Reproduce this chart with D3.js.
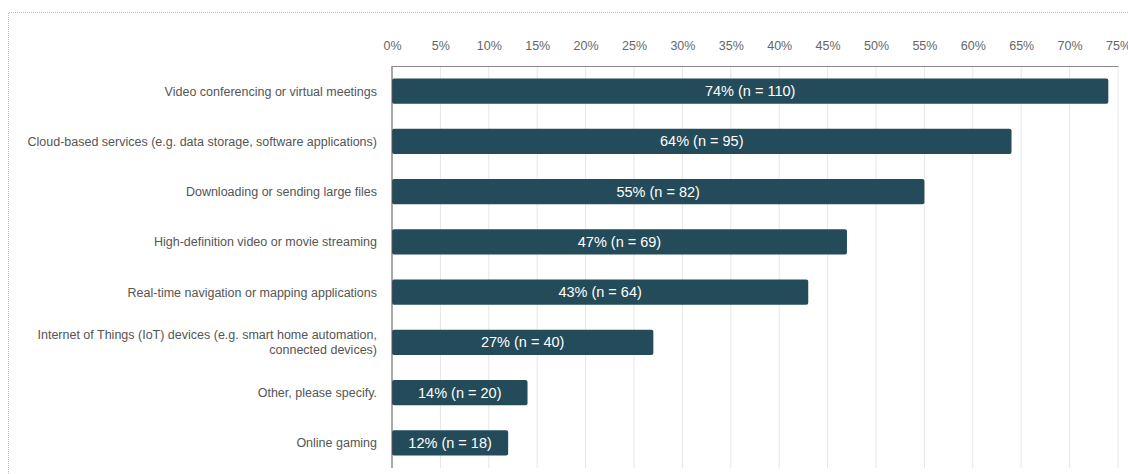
<!DOCTYPE html>
<html>
<head>
<meta charset="utf-8">
<script src="https://cdn.jsdelivr.net/npm/d3@7"></script>
<style>
  body { margin: 0; background: #fff; }
  svg { font-family: "Liberation Sans", Arial, sans-serif; }
</style>
</head>
<body>
<div id="chart"></div>
<script>
var categories = [
    ["Video conferencing or virtual meetings"],
    ["Cloud-based services (e.g. data storage, software applications)"],
    ["Downloading or sending large files"],
    ["High-definition video or movie streaming"],
    ["Real-time navigation or mapping applications"],
    ["Internet of Things (IoT) devices (e.g. smart home automation,", "connected devices)"],
    ["Other, please specify."],
    ["Online gaming"]
];
var percents = [74, 64, 55, 47, 43, 27, 14, 12];
var counts = [110, 95, 82, 69, 64, 40, 20, 18];
var ticks = [0, 5, 10, 15, 20, 25, 30, 35, 40, 45, 50, 55, 60, 65, 70, 75];

var width = 1128, height = 474;
var margin = { top: 66, right: 10, bottom: 6, left: 392 };

var svg = d3.select('#chart').append('svg')
    .attr('width', width)
    .attr('height', height);

// dotted frame
svg.append('path')
    .attr('d', 'M8.5,' + height + 'V12.5H' + width)
    .attr('fill', 'none')
    .attr('stroke', '#bbb')
    .attr('stroke-dasharray', '1,1');

var xScale = d3.scaleLinear().domain([0, 75]).range([margin.left, 1118]);
var yScale = d3.scaleBand()
    .domain(d3.range(categories.length))
    .range([margin.top, height - margin.bottom])
    .paddingInner(0.5)
    .paddingOuter(0.25);

// gridlines
svg.append('g')
    .selectAll('line')
    .data(ticks.slice(1))
    .enter().append('line')
    .attr('x1', function (d) { return xScale(d); })
    .attr('x2', function (d) { return xScale(d); })
    .attr('y1', margin.top)
    .attr('y2', height - margin.bottom)
    .attr('stroke', '#e6e6e6');

// top axis
var xAxis = d3.axisTop(xScale)
    .tickValues(ticks)
    .tickSize(0)
    .tickPadding(16)
    .tickFormat(function (d) { return d + '%'; });

var ax = svg.append('g')
    .attr('transform', 'translate(0,' + margin.top + ')')
    .call(xAxis);
ax.select('.domain').attr('stroke', '#888');
ax.selectAll('text')
    .attr('fill', '#666')
    .style('font-size', '12.5px')
    .style('font-family', '"Liberation Sans", Arial, sans-serif');

// bars
var bars = svg.append('g')
    .selectAll('g')
    .data(percents)
    .enter().append('g');

bars.append('rect')
    .attr('x', xScale(0))
    .attr('y', function (d, i) { return yScale(i); })
    .attr('width', function (d) { return xScale(d) - xScale(0); })
    .attr('height', yScale.bandwidth())
    .attr('rx', 2)
    .attr('fill', '#244b59');

bars.append('text')
    .attr('x', function (d) { return (xScale(d) + xScale(0)) / 2; })
    .attr('y', function (d, i) { return yScale(i) + yScale.bandwidth() / 2; })
    .attr('dy', '0.35em')
    .attr('text-anchor', 'middle')
    .attr('fill', '#fff')
    .style('font-size', '14.5px')
    .text(function (d, i) { return d + '% (n = ' + counts[i] + ')'; });

// left axis line
svg.append('line')
    .attr('x1', xScale(0)).attr('x2', xScale(0))
    .attr('y1', margin.top).attr('y2', height - margin.bottom)
    .attr('stroke', '#555');

// category labels
var labels = svg.append('g')
    .selectAll('text')
    .data(categories)
    .enter().append('text')
    .attr('x', 377)
    .attr('y', function (d, i) {
        return yScale(i) + yScale.bandwidth() / 2 - (d.length - 1) * 7.5;
    })
    .attr('text-anchor', 'end')
    .attr('fill', '#555')
    .style('font-size', '12.5px');

labels.selectAll('tspan')
    .data(function (d) { return d; })
    .enter().append('tspan')
    .attr('x', 377)
    .attr('dy', function (d, j) { return j === 0 ? '0.35em' : '15'; })
    .text(function (d) { return d; });
</script>
</body>
</html>
